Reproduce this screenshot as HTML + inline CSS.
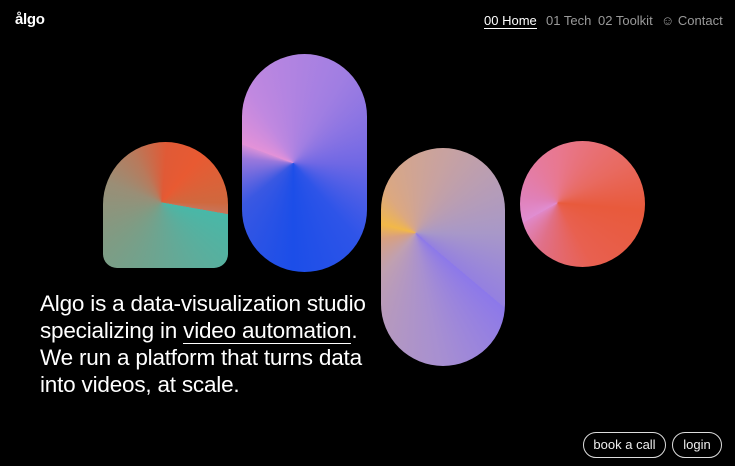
<!DOCTYPE html>
<html><head><meta charset="utf-8"><style>
*{margin:0;padding:0;box-sizing:border-box}
body{width:735px;height:466px;background:#000;overflow:hidden;position:relative;font-family:"Liberation Sans",sans-serif;color:#fff}
.logo{position:absolute;left:15px;top:11px;font-size:15px;font-weight:bold;letter-spacing:-0.3px}
.nav{position:absolute;top:13px;font-size:13px;color:#9a9a9a;white-space:nowrap}
.nav span{position:absolute;white-space:nowrap}
.sh{position:absolute}
.txt{position:absolute;left:40px;top:290px;font-size:22.5px;line-height:27px;letter-spacing:-0.2px;white-space:nowrap}
.txt u{text-decoration:none;border-bottom:1.5px solid #fff}
.btn{position:absolute;top:432px;height:26px;border:1px solid #ddd;border-radius:13px;font-size:13px;line-height:24px;text-align:center;color:#eee}
</style></head><body>
<div class="logo">ålgo</div>
<div class="nav">
<span style="left:484px;color:#fff;border-bottom:1.5px solid #fff;line-height:15px">00 Home</span>
<span style="left:546px">01 Tech</span>
<span style="left:598px">02 Toolkit</span>
<span style="left:661px">☺ Contact</span>
</div>
<div class="sh" style="left:103px;top:142px;width:125px;height:126px;border-radius:62.5px 62.5px 14px 14px;background:conic-gradient(from 100deg at 47% 48%,#48b8a8,#62aa98 60deg,#7e9c84 130deg,#9a8e76 190deg,#b87a5c 230deg,#e05a36 265deg,#e85a32 300deg,#d0683e 350deg,#c87458 360deg)"></div>
<div class="sh" style="left:242px;top:54px;width:125px;height:218px;border-radius:62.5px;background:conic-gradient(from 290deg at 41% 50%,#e492d8,#c088e0 40deg,#a07ee2 100deg,#7068e4 160deg,#2e54e8 210deg,#1c4ee8 250deg,#3a58e2 300deg,#9a78dc 345deg,#d890d8 360deg)"></div>
<div class="sh" style="left:381px;top:148px;width:124px;height:218px;border-radius:62px;background:conic-gradient(from 130deg at 28% 39%,#8c78ea,#a890d0 40deg,#c0a0b0 90deg,#d8a080 130deg,#f2b848 155deg,#dca880 195deg,#c8a2a0 250deg,#a898c8 320deg,#9480e0 360deg)"></div>
<div class="sh" style="left:520px;top:141px;width:125px;height:126px;border-radius:50%;background:conic-gradient(from 240deg at 30% 49%,#e08ed2,#e080b8 40deg,#e87890 120deg,#e86a60 180deg,#e85a3c 215deg,#e86050 270deg,#e07088 320deg,#e088c8 360deg)"></div>
<div class="txt">Algo is a data-visualization studio<br>specializing in <u>video automation</u>.<br>We run a platform that turns data<br>into videos, at scale.</div>
<div class="btn" style="left:583px;width:83px">book a call</div>
<div class="btn" style="left:672px;width:50px">login</div>
</body></html>
